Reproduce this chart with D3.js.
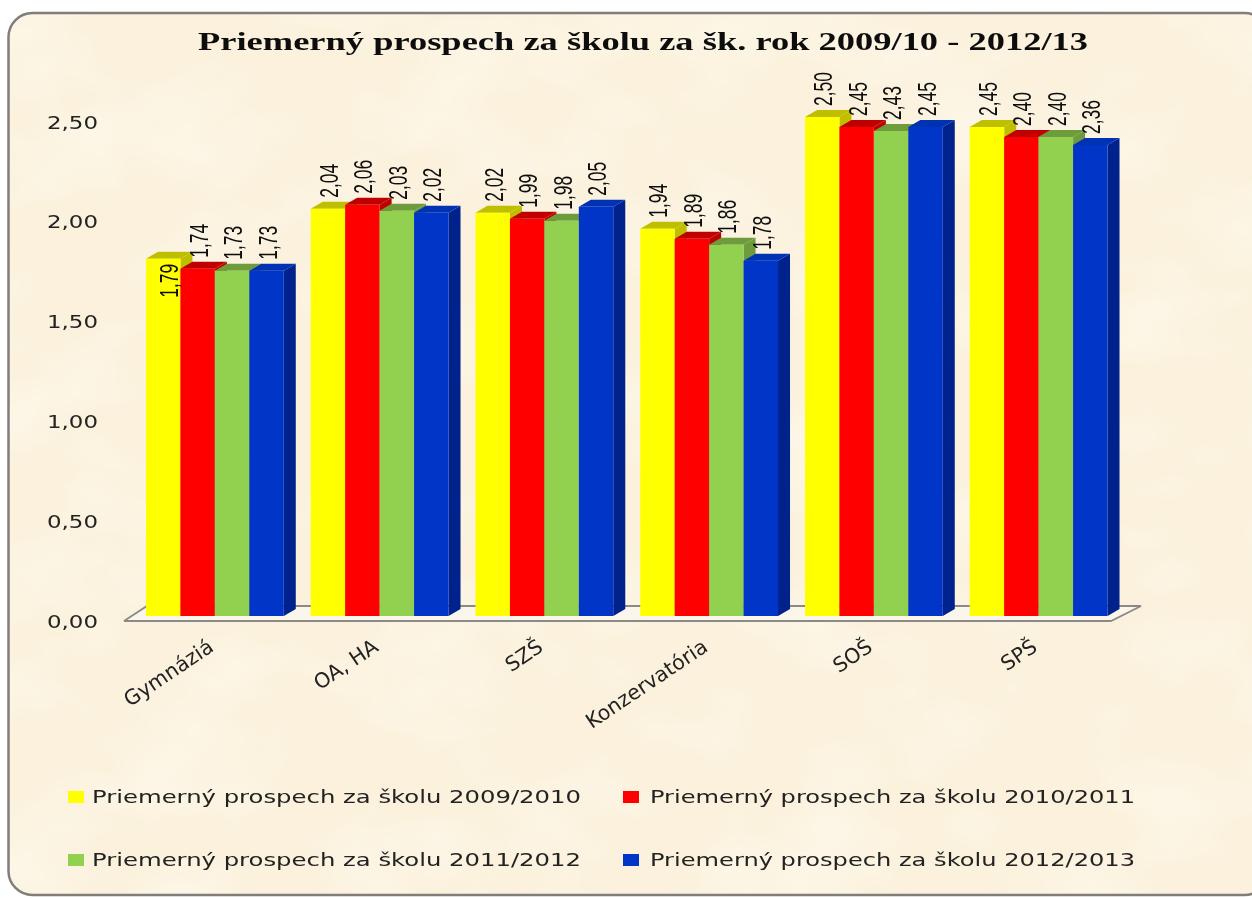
<!DOCTYPE html>
<html><head><meta charset="utf-8">
<script src="https://cdn.jsdelivr.net/npm/d3@7/dist/d3.min.js"></script>
<style>html,body{margin:0;padding:0;background:#fff}svg{display:block}</style></head>
<body><svg id="c" width="1252" height="898"></svg>
<script>
const titleText = "Priemerný prospech za školu za šk. rok 2009/10 - 2012/13";
const categories = ["Gymnáziá","OA, HA","SZŠ","Konzervatória","SOŠ","SPŠ"];
const seriesNames = ["Priemerný prospech za školu 2009/2010","Priemerný prospech za školu 2010/2011","Priemerný prospech za školu 2011/2012","Priemerný prospech za školu 2012/2013"];
const s2009 = [1.79,2.04,2.02,1.94,2.50,2.45];
const s2010 = [1.74,2.06,1.99,1.89,2.45,2.40];
const s2011 = [1.73,2.03,1.98,1.86,2.43,2.40];
const s2012 = [1.73,2.02,2.05,1.78,2.45,2.36];
const seriesValues = [s2009,s2010,s2011,s2012];
const frontColors = ["#ffff00","#ff0000","#92d050","#0535c8"];
const topColors = ["#bfbf00","#c00000","#6e9c3c","#0430b4"];
const sideColors = ["#bfbf00","#c00000","#6e9c3c","#03208c"];
const yTicks = [0,0.5,1,1.5,2,2.5];

const svg = d3.select("#c");
const fmt = v => v.toFixed(2).replace(".", ",");
const defs = svg.append("defs");
const f = defs.append("filter").attr("id","paper").attr("x",0).attr("y",0).attr("width","100%").attr("height","100%");
f.append("feTurbulence").attr("type","fractalNoise").attr("baseFrequency","0.008 0.011").attr("numOctaves",3).attr("seed",11).attr("result","n");
f.append("feColorMatrix").attr("in","n").attr("type","matrix")
 .attr("values","0 0 0 0 1  0 0 0 0 0.97  0 0 0 0 0.88  1.1 0 0 0 -0.42").attr("result","t");
f.append("feComposite").attr("in","t").attr("in2","SourceGraphic").attr("operator","in").attr("result","ti");
f.append("feMerge").selectAll("feMergeNode").data(["SourceGraphic","ti"]).join("feMergeNode").attr("in",d=>d);
defs.append("filter").attr("id","soft").attr("filterUnits","userSpaceOnUse")
  .attr("x",0).attr("y",0).attr("width",1252).attr("height",898)
  .append("feGaussianBlur").attr("stdDeviation",0.45);

svg.append("rect").attr("x",8.5).attr("y",13).attr("width",1260).attr("height",882).attr("rx",24)
  .attr("fill","#fbf1dc").attr("filter","url(#paper)");
svg.append("rect").attr("x",8.5).attr("y",13).attr("width",1260).attr("height",882).attr("rx",24)
  .attr("fill","none").attr("stroke","#807d7a").attr("stroke-width",2.5);

const root = svg.append("g").attr("filter","url(#soft)");

root.append("text").attr("x",643).attr("y",50).attr("text-anchor","middle")
  .attr("font-family","Liberation Serif").attr("font-weight","bold").attr("font-size",26)
  .attr("textLength",890).attr("lengthAdjust","spacingAndGlyphs").attr("fill","#111").text(titleText);

const y = d3.scaleLinear().domain([0,2.5]).range([616,117]);
const x0 = d3.scaleBand().domain(categories).range([132.5,1121]);
const depthX = 12, depthY = 7;
const barW = 34.45;
const barX = (ci,si) => x0(categories[ci]) + (x0.bandwidth()-barW*4)/2 + si*barW;

// floor
const floor = root.append("g");
floor.append("path").attr("d",d3.line()([[124,621],[147,606],[1141,606],[1111,621],[124,621]]))
  .attr("fill","#fbf6ec").attr("stroke","#8c8a86").attr("stroke-width",1.8);

// y axis labels
root.append("g").selectAll("text").data(yTicks).join("text")
  .attr("x",98).attr("y",d=>y(d)+11.5).attr("text-anchor","end")
  .attr("font-family","DejaVu Sans").attr("font-size",17).attr("fill","#222")
  .attr("textLength",51).attr("lengthAdjust","spacingAndGlyphs").text(fmt);

// bars
const bars = root.append("g");
categories.forEach((c,ci)=>{
  seriesValues.forEach((vals,si)=>{
    const v = vals[ci], xl = barX(ci,si), yt = y(v), yb = y(0), g = bars.append("g");
    g.append("path").attr("d",d3.line()([[xl+barW,yt],[xl+barW+depthX,yt-depthY],[xl+barW+depthX,yb-depthY],[xl+barW,yb]])).attr("fill",sideColors[si]);
    g.append("path").attr("d",d3.line()([[xl,yt],[xl+depthX,yt-depthY],[xl+barW+depthX,yt-depthY],[xl+barW,yt]])).attr("fill",topColors[si]);
    g.append("rect").attr("x",xl).attr("y",yt).attr("width",barW).attr("height",yb-yt).attr("fill",frontColors[si]);
  });
});

// value labels
const labels = root.append("g");
categories.forEach((c,ci)=>{
  seriesValues.forEach((vals,si)=>{
    const v = vals[ci];
    const inside = (ci===0 && si===0);
    const lx = barX(ci,si)+barW/2 + (inside?15:10);
    const ly = inside ? y(v)+39 : y(v)-11;
    labels.append("text").attr("transform",`translate(${lx},${ly}) rotate(-90)`)
      .attr("text-anchor","start").attr("font-family","Liberation Sans").attr("font-size",25)
      .attr("fill","#111").attr("textLength",34).attr("lengthAdjust","spacingAndGlyphs").text(fmt(v));
  });
});

// category labels
root.append("g").selectAll("text").data(categories).join("text")
  .attr("transform",(d,i)=>`translate(${barX(i,2)},${650}) rotate(-34)`)
  .attr("text-anchor","end").attr("font-family","DejaVu Sans").attr("font-size",20.5).attr("fill","#222").text(d=>d);

// legend
const legX = [68,623], legY = [796,859], legText = [92,650], legLen = [489,485];
const leg = root.append("g");
seriesNames.forEach((n,i)=>{
  const c = i%2, ly = legY[i<2?0:1];
  leg.append("rect").attr("x",legX[c]).attr("y",ly-5).attr("width",16).attr("height",12).attr("fill",frontColors[i]);
  leg.append("text").attr("x",legText[c]).attr("y",ly+7).attr("font-family","DejaVu Sans").attr("font-size",17.5)
    .attr("fill","#222").attr("textLength",legLen[c]).attr("lengthAdjust","spacingAndGlyphs").text(n);
});
</script></body></html>
